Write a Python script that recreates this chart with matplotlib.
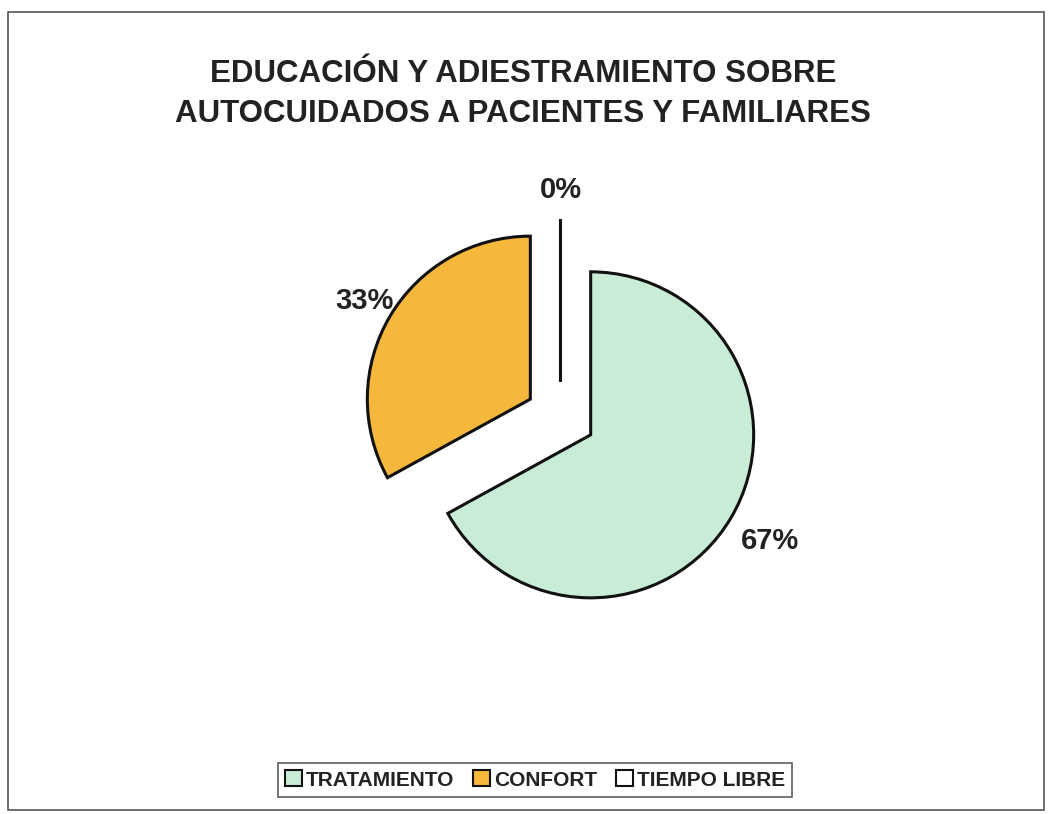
import matplotlib
matplotlib.use("Agg")
import matplotlib.pyplot as plt
from matplotlib.patches import Patch, Rectangle

categories = ["TRATAMIENTO", "CONFORT", "TIEMPO LIBRE"]
values = [67, 33, 0]
colors = ["#c8ecd6", "#f6b83c", "#ffffff"]
title = "EDUCACIÓN Y ADIESTRAMIENTO SOBRE\nAUTOCUIDADOS A PACIENTES Y FAMILIARES"

W, H = 1049, 814
fig = plt.figure(figsize=(W / 100, H / 100), dpi=100)
fig.patch.set_facecolor("white")
plt.rcParams['font.family'] = ['Liberation Sans', 'DejaVu Sans']

# outer frame
fig.patches.append(Rectangle((8 / W, 1 - 810 / H), (1044 - 8) / W, (810 - 12) / H,
                             transform=fig.transFigure, fill=False,
                             edgecolor="#555555", linewidth=1.2))

R = 163.0
cx, cy = 560.5, 417.0
half = 320.0
ax = fig.add_axes([(cx - half) / W, (H - cy - half) / H, 2 * half / W, 2 * half / H])
ax.set_aspect("equal")
ax.axis("off")

wedges, texts, autotexts = ax.pie(
    values, colors=colors, startangle=90, counterclock=False,
    explode=[0.215] * 3, radius=1.0,
    autopct=lambda p: f"{p:.0f}%", pctdistance=1.18,
    wedgeprops=dict(edgecolor="#111111", linewidth=2.2),
    textprops=dict(fontsize=21, fontweight="bold", color="#222222"),
)
ax.set_xlim(-half / R, half / R)
ax.set_ylim(-half / R, half / R)
# large-slice label sits a bit further out in the original
autotexts[0].set_position(((770 - cx) / R, -(541 - cy) / R))

fig.text(523 / W, 1 - 94 / H, title, ha="center", va="center",
         fontsize=22.5, fontweight="bold", color="#222222", linespacing=1.4)

handles = [Patch(facecolor=c, edgecolor="#111111", linewidth=1.5) for c in colors]
leg = fig.legend(handles, categories, loc="center", ncol=3,
                 bbox_to_anchor=(535 / W, 1 - 780 / H),
                 frameon=True, fancybox=False, edgecolor="#333333",
                 handlelength=0.8, handleheight=0.8, handletextpad=0.2,
                 columnspacing=0.9, borderpad=0.35,
                 prop=dict(size=15, weight="bold"))
leg.get_frame().set_linewidth(1.2)
for t in leg.get_texts():
    t.set_color("#222222")

fig.savefig("out.png", dpi=100, facecolor="white")
